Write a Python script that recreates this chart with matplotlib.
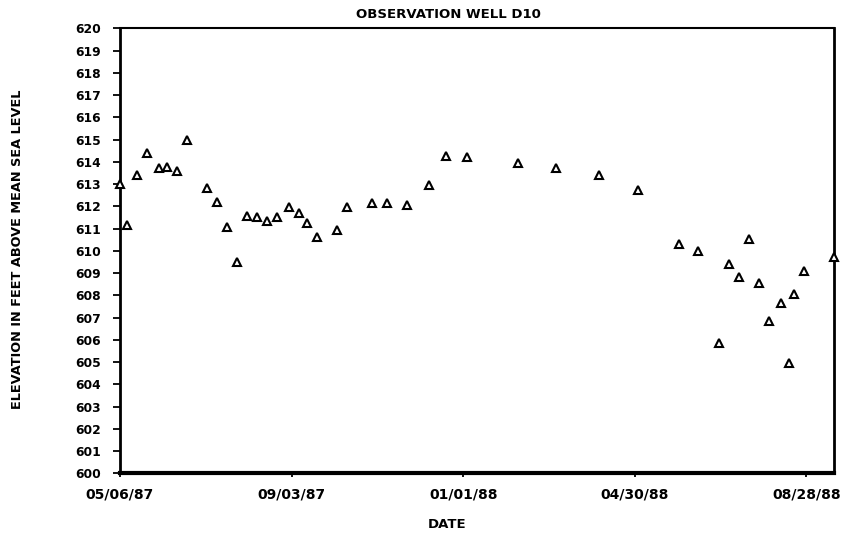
import datetime as dt
import matplotlib
matplotlib.use("Agg")
import matplotlib.pyplot as plt
import matplotlib.dates as mdates

# water levels, observation well D10
dates = [
    "1987-05-06", "1987-05-11", "1987-05-18", "1987-05-25", "1987-06-02",
    "1987-06-08", "1987-06-15", "1987-06-22", "1987-07-06", "1987-07-13",
    "1987-07-20", "1987-07-27", "1987-08-03", "1987-08-10", "1987-08-17",
    "1987-08-24", "1987-09-01", "1987-09-08", "1987-09-14", "1987-09-21",
    "1987-10-05", "1987-10-12", "1987-10-29", "1987-11-09", "1987-11-23",
    "1987-12-08", "1987-12-20", "1988-01-04", "1988-02-08", "1988-03-06",
    "1988-04-05", "1988-05-02", "1988-05-31", "1988-06-13", "1988-06-28",
    "1988-07-05", "1988-07-12", "1988-07-19", "1988-07-26", "1988-08-02",
    "1988-08-10", "1988-08-16", "1988-08-19", "1988-08-26", "1988-09-16",
]
elevation = [
    613.0, 611.15, 613.4, 614.4, 613.7,
    613.75, 613.6, 615.0, 612.8, 612.2,
    611.05, 609.5, 611.55, 611.5, 611.35,
    611.5, 611.95, 611.7, 611.25, 610.6,
    610.95, 611.95, 612.15, 612.15, 612.05,
    612.95, 614.25, 614.2, 613.95, 613.7,
    613.4, 612.75, 610.3, 610.0, 605.85,
    609.4, 608.8, 610.55, 608.55, 606.85,
    607.65, 604.95, 608.05, 609.1, 609.7,
]
tick_dates = ["1987-05-06", "1987-09-03", "1988-01-01", "1988-04-30", "1988-08-28"]
y_ticks = list(range(600, 621))

to_date = lambda s: dt.datetime.strptime(s, "%Y-%m-%d")
x = [to_date(d) for d in dates]

plt.rcParams['font.family'] = ['DejaVu Sans']
plt.rcParams['font.weight'] = 'bold'

fig = plt.figure(figsize=(8.48, 5.38), dpi=100)
ax = fig.add_axes([0.1415, 0.1203, 0.8415, 0.8271])

ax.plot(x, elevation, linestyle='none', marker='^', markersize=5.5,
        markerfacecolor='white', markeredgecolor='black', markeredgewidth=1.5,
        clip_on=False, zorder=3)

ax.set_xlim(to_date("1987-05-06"), to_date("1988-09-16"))
ax.set_ylim(600, 620)
ax.set_yticks(y_ticks)
ax.set_yticklabels([str(v) for v in y_ticks], fontsize=8.8, fontweight='bold')
ax.set_xticks([to_date(d) for d in tick_dates])
ax.xaxis.set_major_formatter(mdates.DateFormatter('%m/%d/%y'))
for lbl in ax.get_xticklabels():
    lbl.set_fontsize(10)
    lbl.set_fontweight('bold')

ax.tick_params(axis='y', direction='out', length=5, width=1.3, pad=9)
ax.tick_params(axis='x', direction='out', length=3, width=1.3, pad=7)

ax.spines['left'].set_linewidth(2)
ax.spines['bottom'].set_linewidth(3)
ax.spines['top'].set_linewidth(1.5)
ax.spines['right'].set_linewidth(2)

fig.text(448 / 848, 1 - 14 / 538, "OBSERVATION WELL D10", ha='center', va='center',
         fontsize=9.5, fontweight='bold')
fig.text(447 / 848, 1 - 525 / 538, "DATE", ha='center', va='center',
         fontsize=9.5, fontweight='bold')
fig.text(18 / 848, 1 - 249 / 538, "ELEVATION IN FEET ABOVE MEAN SEA LEVEL",
         rotation=90, ha='center', va='center', fontsize=9.3, fontweight='bold')

fig.savefig('out.png', dpi=100)
